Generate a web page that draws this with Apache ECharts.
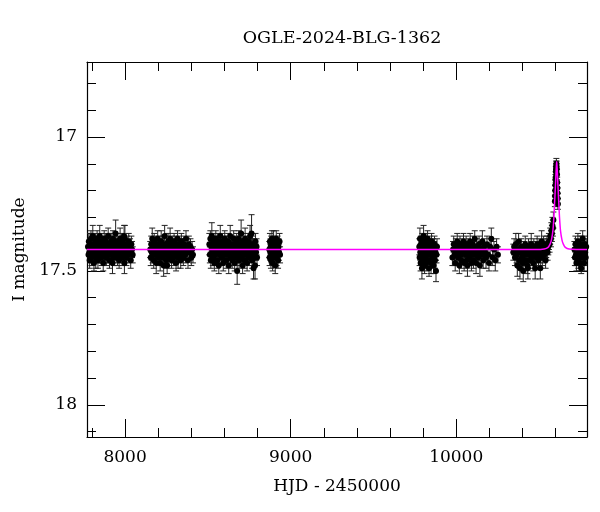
<!DOCTYPE html>
<html>
<head>
<meta charset="utf-8">
<script src="https://cdn.jsdelivr.net/npm/echarts@6/dist/echarts.min.js"></script>
<style>html,body{margin:0;padding:0;background:#fff}#c{width:600px;height:512px}</style>
</head>
<body>
<div id="c"></div>
<script>
// ---- tick definitions ----
const majorX = [8000, 9000, 10000];
const minorX = [7800, 8200, 8400, 8600, 8800, 9200, 9400, 9600, 9800, 10200, 10400, 10600];
const majorY = [17, 17.5, 18];
const minorY = [16.8, 16.9, 17.1, 17.2, 17.3, 17.4, 17.6, 17.7, 17.8, 17.9, 18.1];

// ---- photometry: [HJD-2450000, I mag, error] per season ----
const season1 = [
[7776,17.41,.03],[7779,17.44,.03],[7781,17.39,.03],[7784,17.43,.03],[7786,17.46,.03],[7789,17.40,.04],[7791,17.42,.03],[7794,17.38,.03],
[7797,17.45,.03],[7799,17.41,.03],[7802,17.43,.03],[7805,17.37,.04],[7807,17.44,.03],[7810,17.42,.03],[7812,17.47,.03],[7815,17.40,.03],
[7818,17.43,.03],[7820,17.39,.03],[7823,17.45,.04],[7826,17.41,.03],[7828,17.42,.03],[7831,17.38,.03],[7834,17.44,.03],[7836,17.46,.03],
[7839,17.40,.03],[7842,17.43,.03],[7844,17.41,.03],[7847,17.37,.04],[7850,17.44,.03],[7852,17.42,.03],[7855,17.39,.03],[7858,17.45,.03],
[7860,17.41,.03],[7863,17.43,.04],[7866,17.40,.03],[7868,17.47,.03],[7871,17.42,.03],[7874,17.38,.03],[7876,17.44,.03],[7879,17.41,.03],
[7882,17.43,.03],[7884,17.39,.03],[7887,17.45,.03],[7890,17.42,.04],[7892,17.40,.03],[7895,17.44,.03],[7898,17.37,.03],[7900,17.43,.03],
[7903,17.41,.03],[7906,17.46,.03],[7908,17.40,.04],[7911,17.42,.03],[7914,17.44,.03],[7916,17.39,.03],[7919,17.43,.03],[7922,17.41,.03],
[7924,17.47,.04],[7927,17.38,.03],[7930,17.42,.03],[7932,17.45,.03],[7935,17.40,.03],[7938,17.43,.03],[7940,17.41,.03],[7943,17.36,.05],
[7946,17.44,.03],[7948,17.42,.03],[7951,17.39,.03],[7954,17.45,.03],[7956,17.41,.03],[7959,17.43,.03],[7962,17.40,.03],[7964,17.46,.03],
[7967,17.42,.03],[7970,17.38,.04],[7972,17.44,.03],[7975,17.41,.03],[7978,17.43,.03],[7980,17.39,.03],[7983,17.45,.03],[7986,17.42,.03],
[7988,17.40,.03],[7991,17.44,.03],[7994,17.37,.04],[7996,17.47,.04],[7999,17.38,.05],[8002,17.43,.03],[8005,17.41,.03],[8008,17.45,.03],
[8011,17.40,.03],[8014,17.42,.03],[8018,17.44,.03],[8022,17.39,.03],[8026,17.43,.03],[8030,17.41,.03],[8034,17.46,.03],[8038,17.40,.03],
[8042,17.42,.03],[8046,17.44,.03]
];
const season2 = [
[8152,17.42,.03],[8155,17.45,.03],[8158,17.40,.03],[8161,17.43,.03],[8164,17.38,.04],[8167,17.44,.03],[8170,17.41,.03],[8173,17.46,.03],
[8176,17.39,.03],[8179,17.42,.03],[8182,17.44,.03],[8185,17.40,.03],[8188,17.47,.04],[8191,17.41,.03],[8194,17.43,.03],[8197,17.38,.03],
[8200,17.45,.03],[8203,17.42,.03],[8206,17.40,.03],[8209,17.44,.03],[8212,17.47,.03],[8215,17.41,.03],[8218,17.39,.04],[8221,17.43,.03],
[8224,17.45,.03],[8227,17.40,.03],[8230,17.42,.03],[8233,17.48,.04],[8236,17.41,.03],[8239,17.37,.04],[8242,17.44,.03],[8245,17.42,.03],
[8248,17.46,.03],[8251,17.40,.03],[8254,17.48,.03],[8257,17.43,.03],[8260,17.39,.03],[8263,17.45,.03],[8266,17.41,.03],[8269,17.43,.03],
[8272,17.38,.04],[8275,17.44,.03],[8278,17.42,.03],[8281,17.46,.03],[8284,17.40,.03],[8287,17.43,.03],[8290,17.41,.03],[8293,17.45,.03],
[8296,17.39,.03],[8299,17.42,.03],[8302,17.44,.03],[8305,17.40,.03],[8308,17.47,.03],[8311,17.41,.03],[8314,17.43,.03],[8317,17.38,.03],
[8320,17.45,.04],[8323,17.42,.03],[8326,17.40,.03],[8329,17.44,.03],[8332,17.41,.03],[8336,17.46,.03],[8340,17.39,.03],[8344,17.43,.03],
[8348,17.41,.03],[8352,17.45,.03],[8356,17.40,.03],[8360,17.42,.04],[8364,17.44,.03],[8368,17.38,.03],[8372,17.43,.03],[8376,17.41,.03],
[8380,17.46,.03],[8385,17.40,.03],[8390,17.43,.03],[8395,17.41,.03],[8400,17.45,.03],[8405,17.42,.03],[8410,17.44,.03]
];
const season3 = [
[8509,17.40,.04],[8512,17.44,.03],[8515,17.38,.03],[8518,17.46,.03],[8521,17.41,.03],[8524,17.37,.05],[8527,17.43,.03],[8530,17.45,.03],
[8533,17.39,.03],[8536,17.42,.03],[8539,17.47,.03],[8542,17.40,.03],[8545,17.44,.04],[8548,17.38,.03],[8551,17.43,.03],[8554,17.41,.03],
[8557,17.46,.03],[8560,17.39,.03],[8563,17.42,.03],[8566,17.48,.03],[8569,17.40,.03],[8572,17.44,.03],[8575,17.37,.04],[8578,17.43,.03],
[8581,17.41,.03],[8584,17.45,.03],[8587,17.39,.03],[8590,17.42,.03],[8593,17.47,.03],[8596,17.40,.03],[8599,17.44,.03],[8602,17.38,.03],
[8605,17.43,.04],[8608,17.41,.03],[8611,17.46,.03],[8614,17.40,.03],[8617,17.42,.03],[8620,17.44,.03],[8623,17.39,.03],[8626,17.48,.03],
[8629,17.41,.03],[8632,17.43,.03],[8635,17.37,.04],[8638,17.45,.03],[8641,17.42,.03],[8644,17.40,.03],[8647,17.46,.03],[8650,17.41,.03],
[8653,17.44,.03],[8656,17.38,.03],[8659,17.43,.03],[8662,17.47,.03],[8665,17.40,.03],[8668,17.42,.03],[8671,17.45,.03],[8674,17.39,.03],
[8677,17.50,.05],[8680,17.41,.03],[8683,17.44,.03],[8686,17.38,.03],[8689,17.46,.03],[8692,17.42,.03],[8695,17.40,.03],[8698,17.43,.04],
[8701,17.36,.05],[8704,17.45,.03],[8707,17.41,.03],[8710,17.48,.03],[8713,17.39,.03],[8716,17.43,.03],[8719,17.41,.03],[8722,17.46,.03],
[8725,17.38,.04],[8728,17.44,.03],[8731,17.42,.03],[8734,17.40,.03],[8737,17.47,.03],[8740,17.41,.03],[8743,17.43,.03],[8746,17.39,.03],
[8749,17.45,.03],[8752,17.42,.03],[8755,17.37,.04],[8758,17.44,.03],[8761,17.41,.03],[8764,17.36,.07],[8767,17.46,.03],[8770,17.40,.03],
[8773,17.43,.03],[8776,17.49,.04],[8779,17.41,.03],[8782,17.45,.03],[8785,17.48,.05],[8788,17.39,.03],[8791,17.43,.03],[8794,17.41,.03],
[8797,17.45,.03]
];
const season4 = [
[8871,17.42,.03],[8873,17.45,.03],[8875,17.39,.03],[8877,17.43,.03],[8879,17.41,.03],[8881,17.46,.03],[8883,17.40,.03],[8885,17.44,.03],
[8887,17.38,.03],[8889,17.42,.03],[8891,17.47,.03],[8893,17.41,.03],[8895,17.43,.03],[8897,17.39,.04],[8899,17.45,.03],[8901,17.42,.03],
[8903,17.40,.03],[8905,17.44,.03],[8907,17.48,.03],[8909,17.41,.03],[8911,17.43,.03],[8913,17.38,.03],[8915,17.45,.03],[8918,17.42,.03],
[8921,17.40,.03],[8924,17.46,.03],[8927,17.41,.03],[8930,17.43,.03],[8933,17.39,.03],[8936,17.44,.03]
];
const season5 = [
[9777,17.41,.03],[9779,17.45,.03],[9781,17.38,.04],[9783,17.43,.03],[9785,17.47,.03],[9787,17.40,.03],[9789,17.44,.03],[9791,17.42,.03],
[9793,17.49,.04],[9795,17.39,.03],[9797,17.43,.03],[9799,17.46,.03],[9801,17.41,.03],[9803,17.37,.04],[9805,17.44,.03],[9807,17.42,.03],
[9809,17.48,.03],[9811,17.40,.03],[9813,17.45,.03],[9815,17.43,.03],[9817,17.39,.03],[9819,17.47,.03],[9821,17.41,.03],[9824,17.44,.03],
[9827,17.38,.03],[9830,17.46,.03],[9833,17.42,.03],[9836,17.49,.03],[9839,17.40,.03],[9842,17.44,.03],[9845,17.41,.03],[9848,17.47,.04],
[9851,17.39,.03],[9854,17.43,.03],[9857,17.45,.03],[9860,17.41,.03],[9863,17.48,.03],[9866,17.42,.03],[9869,17.40,.03],[9872,17.46,.03],
[9875,17.43,.03],[9878,17.50,.04],[9881,17.44,.03],[9884,17.41,.03]
];
const season6 = [
[9977,17.45,.03],[9981,17.42,.03],[9985,17.40,.03],[9990,17.44,.04],[9994,17.47,.03],[9998,17.41,.03],[10002,17.43,.03],[10006,17.39,.03],
[10011,17.45,.03],[10015,17.42,.03],[10019,17.48,.03],[10023,17.40,.03],[10027,17.44,.03],[10031,17.46,.03],[10035,17.41,.03],[10040,17.43,.04],
[10044,17.39,.03],[10048,17.47,.03],[10052,17.42,.03],[10056,17.44,.03],[10060,17.40,.03],[10064,17.46,.03],[10068,17.48,.04],[10072,17.41,.03],
[10076,17.43,.03],[10080,17.45,.03],[10084,17.39,.03],[10088,17.42,.03],[10092,17.47,.03],[10096,17.44,.03],[10100,17.40,.03],[10104,17.46,.03],
[10108,17.42,.03],[10112,17.38,.03],[10116,17.44,.03],[10120,17.47,.04],[10124,17.41,.03],[10128,17.43,.03],[10133,17.45,.03],[10138,17.40,.03],
[10143,17.48,.04],[10148,17.42,.03],[10153,17.44,.03],[10158,17.39,.04],[10163,17.46,.03],[10168,17.41,.03],[10174,17.43,.03],[10180,17.45,.04],
[10186,17.40,.03],[10192,17.44,.03],[10198,17.47,.03],[10205,17.41,.03],[10212,17.38,.04],[10220,17.45,.03],[10228,17.42,.03],[10236,17.46,.04],
[10244,17.41,.03],[10252,17.44,.03]
];
const season7 = [
[10345,17.43,.03],[10350,17.41,.03],[10355,17.45,.03],[10360,17.40,.04],[10365,17.44,.03],[10369,17.48,.04],[10373,17.42,.03],[10377,17.39,.03],
[10381,17.46,.03],[10385,17.49,.04],[10389,17.43,.03],[10393,17.41,.03],[10397,17.45,.03],[10401,17.47,.03],[10405,17.50,.04],[10409,17.42,.03],
[10413,17.44,.03],[10417,17.40,.03],[10421,17.46,.03],[10425,17.43,.03],[10429,17.48,.03],[10433,17.49,.04],[10437,17.41,.03],[10441,17.44,.03],
[10445,17.46,.03],[10449,17.42,.03],[10453,17.40,.04],[10457,17.45,.03],[10461,17.43,.03],[10465,17.47,.03],[10469,17.41,.03],[10473,17.44,.03],
[10477,17.49,.04],[10481,17.42,.03],[10485,17.45,.03],[10489,17.40,.03],[10493,17.43,.03],[10497,17.46,.03],[10501,17.41,.03],[10505,17.44,.03],
[10508,17.49,.04],[10512,17.42,.03],[10516,17.39,.04],[10520,17.45,.03],[10524,17.43,.03],[10528,17.40,.03],[10532,17.44,.03],[10536,17.41,.03],
[10540,17.46,.03],[10544,17.42,.03],[10548,17.40,.03],[10552,17.43,.03],[10556,17.41,.03],[10560,17.39,.03],[10564,17.40,.03],[10568,17.37,.03],
[10572,17.38,.03],[10575,17.35,.03],[10578,17.36,.03],[10581,17.33,.03],[10584,17.34,.03],[10587,17.31,.03]
];
const peak = [
[10596,17.24,.02],[10597,17.22,.02],[10598,17.20,.02],[10599,17.18,.02],[10600,17.16,.02],[10601,17.15,.02],[10602,17.13,.02],[10603,17.12,.02],
[10604,17.11,.02],[10605,17.10,.02],[10606,17.11,.02],[10607,17.12,.02],[10609,17.14,.02],[10610,17.17,.02],[10611,17.19,.02],[10612,17.21,.02],
[10613,17.23,.02],[10614,17.25,.02]
];
const season8 = [
[10714,17.42,.03],[10717,17.45,.03],[10720,17.40,.03],[10723,17.44,.04],[10726,17.47,.03],[10729,17.41,.03],[10732,17.43,.03],[10735,17.39,.03],
[10738,17.46,.03],[10741,17.42,.03],[10744,17.44,.03],[10747,17.47,.03],[10750,17.40,.03],[10753,17.43,.03],[10755,17.49,.02],[10758,17.41,.04],
[10761,17.45,.03],[10764,17.38,.03],[10767,17.44,.03],[10770,17.42,.03],[10773,17.47,.03],[10776,17.40,.03],[10779,17.43,.03],[10782,17.45,.03],
[10785,17.41,.03]
];

// ---- microlensing model curve: [HJD-2450000, I mag] ----
const modelCurve = [
[7770,17.42],[10480,17.42],[10532,17.418],[10555,17.412],[10567,17.40],[10575,17.385],[10584,17.35],[10590,17.30],[10594,17.25],
[10598,17.20],[10601,17.16],[10604,17.12],[10606,17.10],[10607,17.092],[10608,17.10],[10610,17.12],[10613,17.16],[10616,17.20],
[10620,17.25],[10624,17.30],[10630,17.35],[10639,17.385],[10647,17.40],[10659,17.412],[10682,17.418],[10790,17.42]
];

const allPoints = [].concat(season1, season2, season3, season4, season5, season6, season7, peak, season8);

const FONT = 'DejaVu Serif';
const X_MIN = 7770, X_MAX = 10790, Y_MIN = 16.72, Y_MAX = 18.12;

function xAx(pos, vals, len, showLine, showLabel) {
  return {
    type: 'value', position: pos, min: X_MIN, max: X_MAX,
    name: showLabel ? 'HJD - 2450000' : '',
    nameLocation: 'middle', nameGap: 41,
    nameTextStyle: { fontFamily: FONT, fontSize: 17, color: '#000' },
    axisLine: { show: showLine, onZero: false, lineStyle: { color: '#000', width: 1.2 } },
    axisTick: { show: true, inside: true, length: len, customValues: vals, lineStyle: { color: '#000', width: 1 } },
    axisLabel: { show: showLabel, customValues: vals, margin: 12, fontFamily: FONT, fontSize: 17, color: '#000',
                 formatter: v => String(v) },
    splitLine: { show: false }
  };
}
function yAx(pos, vals, len, showLine, showLabel) {
  return {
    type: 'value', position: pos, min: Y_MIN, max: Y_MAX, inverse: true,
    name: showLabel ? 'I magnitude' : '',
    nameLocation: 'middle', nameGap: 58, nameRotate: 90,
    nameTextStyle: { fontFamily: FONT, fontSize: 17, color: '#000' },
    axisLine: { show: showLine, onZero: false, lineStyle: { color: '#000', width: 1.2 } },
    axisTick: { show: true, inside: true, length: len, customValues: vals, lineStyle: { color: '#000', width: 1 } },
    axisLabel: { show: showLabel, customValues: vals, margin: 10, fontFamily: FONT, fontSize: 17, color: '#000',
                 formatter: v => String(v) },
    splitLine: { show: false }
  };
}

const chart = echarts.init(document.getElementById('c'), null, { renderer: 'canvas' });
chart.setOption({
  animation: false,
  backgroundColor: '#fff',
  title: {
    text: 'OGLE-2024-BLG-1362', left: 337, top: 24, textAlign: 'center',
    textStyle: { fontFamily: FONT, fontSize: 17.5, fontWeight: 'normal', color: '#000' }
  },
  grid: { left: 87, right: 13, top: 62, bottom: 75 },
  xAxis: [
    xAx('bottom', majorX, 18, true, true),
    xAx('bottom', minorX, 9, false, false),
    xAx('top', majorX, 18, true, false),
    xAx('top', minorX, 9, false, false)
  ],
  yAxis: [
    yAx('left', majorY, 18, true, true),
    yAx('left', minorY, 9, false, false),
    yAx('right', majorY, 18, true, false),
    yAx('right', minorY, 9, false, false)
  ],
  series: [
    {
      type: 'custom', xAxisIndex: 0, yAxisIndex: 0, clip: true, z: 2,
      data: allPoints,
      encode: { x: 0, y: 1 },
      renderItem: function (params, api) {
        const t = api.value(0), m = api.value(1), e = api.value(2);
        const a = api.coord([t, m - e]);
        const b = api.coord([t, m + e]);
        const hw = 3;
        const st = { stroke: '#222', lineWidth: 1 };
        return {
          type: 'group',
          children: [
            { type: 'line', shape: { x1: a[0], y1: a[1], x2: b[0], y2: b[1] }, style: st },
            { type: 'line', shape: { x1: a[0] - hw, y1: a[1], x2: a[0] + hw, y2: a[1] }, style: st },
            { type: 'line', shape: { x1: b[0] - hw, y1: b[1], x2: b[0] + hw, y2: b[1] }, style: st }
          ]
        };
      }
    },
    {
      type: 'scatter', xAxisIndex: 0, yAxisIndex: 0, z: 3,
      data: allPoints.map(p => [p[0], p[1]]),
      symbol: 'circle', symbolSize: 6,
      itemStyle: { color: '#000', opacity: 1, borderWidth: 0 }
    },
    {
      type: 'line', xAxisIndex: 0, yAxisIndex: 0, z: 4,
      data: modelCurve, showSymbol: false, smooth: 0.3,
      lineStyle: { color: '#ff00ff', width: 1.5 }
    }
  ]
});
</script>
</body>
</html>
